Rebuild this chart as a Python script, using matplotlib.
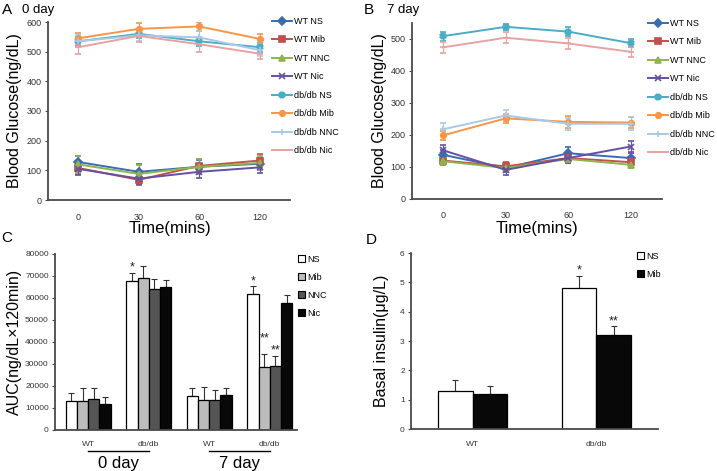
import matplotlib.pyplot as plt
from matplotlib.patches import Patch
from matplotlib.lines import Line2D

plt.rcParams['font.family'] = ['Liberation Sans', 'DejaVu Sans']

W, H = 717, 471

# ---- data ----
time_labels = ['0', '30', '60', '120']
series_names = ['WT NS', 'WT Mib', 'WT NNC', 'WT Nic',
                'db/db NS', 'db/db Mib', 'db/db NNC', 'db/db Nic']
series_colors = ['#3a6cb3', '#c0504d', '#8fb34f', '#6650a0',
                 '#4bacc6', '#f79646', '#a9c9e6', '#e8a2a2']
series_markers = ['D', 's', '^', 'x', 'X', 'o', '+', '_']

# panel A, 0 day
glucose_d0 = [[128, 95, 112, 122],
              [108, 68, 115, 133],
              [120, 88, 112, 125],
              [105, 72, 95, 110],
              [535, 560, 535, 515],
              [545, 577, 585, 543],
              [535, 555, 548, 505],
              [515, 553, 525, 493]]
glucose_d0_err = [[22, 25, 22, 20], [20, 18, 22, 22], [30, 30, 25, 25], [20, 18, 22, 20],
                  [15, 15, 15, 15], [18, 18, 15, 18], [20, 20, 20, 20], [22, 22, 25, 18]]

# panel B, 7 day
glucose_d7 = [[138, 97, 143, 128],
              [120, 102, 128, 115],
              [118, 97, 125, 107],
              [152, 91, 128, 164],
              [509, 538, 523, 487],
              [199, 252, 241, 239],
              [218, 261, 235, 235],
              [474, 504, 486, 460]]
glucose_d7_err = [[15, 12, 18, 15], [15, 15, 15, 12], [12, 10, 12, 10], [18, 15, 15, 18],
                  [14, 10, 13, 13], [15, 15, 18, 18], [18, 18, 18, 20], [18, 18, 18, 16]]

# panel C, AUC
auc_groups = ['WT', 'db/db', 'WT', 'db/db']
auc_days = ['0 day', '7 day']
auc_treatments = ['NS', 'Mib', 'NNC', 'Nic']
auc_ns = [13300, 67900, 15500, 61800]
auc_mib = [13300, 68900, 13800, 28800]
auc_nnc = [14100, 64100, 13600, 28900]
auc_nic = [11700, 65200, 15900, 57900]
auc_ns_err = [3700, 3600, 3400, 3700]
auc_mib_err = [5600, 5800, 5900, 5700]
auc_nnc_err = [4800, 4500, 4600, 4900]
auc_nic_err = [3100, 3100, 3300, 3300]
auc_colors = ['white', '#bcbcbc', '#555555', '#080808']

# panel D, insulin
insulin_groups = ['WT', 'db/db']
insulin_ns = [1.28, 4.8]
insulin_mib = [1.2, 3.2]
insulin_ns_err = [0.4, 0.4]
insulin_mib_err = [0.28, 0.3]


def px_axes(fig, left, top, right, bottom):
    return fig.add_axes([left / W, 1 - bottom / H, (right - left) / W, (bottom - top) / H])


def style(ax):
    for s in ['top', 'right']:
        ax.spines[s].set_visible(False)
    for s in ['left', 'bottom']:
        ax.spines[s].set_color('#4a4a4a')
        ax.spines[s].set_linewidth(1.3)
    ax.tick_params(axis='y', direction='out', length=2.5, width=0.8, color='#4a4a4a',
                   labelsize=6.5, labelcolor='#333333', pad=2)
    ax.tick_params(axis='x', length=0, labelsize=6.5, labelcolor='#333333')


def line_panel(ax, values, errs, ymax, yticks):
    x = range(len(time_labels))
    for vals, err, c, m in zip(values, errs, series_colors, series_markers):
        ax.errorbar(x, vals, yerr=err, color=c, marker=m, markersize=4, lw=1.4,
                    capsize=2, elinewidth=0.9, capthick=0.9, mew=1.2)
    ax.set_xlim(-0.5, 3.5)
    ax.set_ylim(0, ymax)
    ax.set_yticks(yticks)
    ax.set_xticks(list(x))
    ax.set_xticklabels(time_labels)
    ax.tick_params(axis='x', pad=9)
    style(ax)


def line_legend(ax, x, y):
    handles = [Line2D([], [], color=c, marker=m, markersize=4, lw=1.4, mew=1.2, label=n)
               for n, c, m in zip(series_names, series_colors, series_markers)]
    ax.legend(handles=handles, loc='upper left', bbox_to_anchor=(x / W, 1 - y / H),
              bbox_transform=fig.transFigure, frameon=False, fontsize=6.5, labelspacing=1.05,
              handlelength=2.2, handletextpad=0.2, borderpad=0, borderaxespad=0)


fig = plt.figure(figsize=(W / 100, H / 100), dpi=100)

# ---- A ----
axA = px_axes(fig, 48, 22, 290, 200)
line_panel(axA, glucose_d0, glucose_d0_err, 600, range(0, 601, 100))
line_legend(axA, 272, 17)
axA.set_ylabel('Blood Glucose(ng/dL)', fontsize=11.5, labelpad=3)
fig.text(170 / W, 1 - 229 / H, 'Time(mins)', fontsize=12, ha='center', va='center')

# ---- B ----
axB = px_axes(fig, 412, 23, 662, 199)
line_panel(axB, glucose_d7, glucose_d7_err, 550, range(0, 501, 100))
line_legend(axB, 648, 19)
axB.set_ylabel('Blood Glucose(ng/dL)', fontsize=11.5, labelpad=3)
fig.text(537 / W, 1 - 229 / H, 'Time(mins)', fontsize=12, ha='center', va='center')

# ---- C ----
axC = px_axes(fig, 55, 254, 297, 430)
bw = 0.185
auc_vals = [auc_ns, auc_mib, auc_nnc, auc_nic]
auc_errs = [auc_ns_err, auc_mib_err, auc_nnc_err, auc_nic_err]
gx = [i + 0.05 for i in range(len(auc_groups))]
for k, (vals, err, col) in enumerate(zip(auc_vals, auc_errs, auc_colors)):
    xs = [g + (k - 1.5) * bw for g in gx]
    axC.bar(xs, vals, width=bw, color=col, edgecolor='black', linewidth=0.9, zorder=2)
    axC.errorbar(xs, vals, yerr=[[0] * len(vals), err], fmt='none', ecolor='#333333',
                 elinewidth=0.8, capsize=2, capthick=0.8, zorder=1)
axC.set_xlim(-0.5, 3.5)
axC.set_ylim(0, 80000)
axC.set_yticks(range(0, 80001, 10000))
axC.set_xticks([])
style(axC)
axC.tick_params(axis='y', labelsize=6)
axC.set_ylabel('AUC(ng/dL×120min)', fontsize=11.5, labelpad=2)
# significance marks: (group, bar, y)
auc_stars = [(1, 0, '*', 74000), (3, 0, '*', 67600), (3, 1, '**', 41400), (3, 2, '**', 36000)]
for g, k, s, y in auc_stars:
    axC.text(gx[g] + (k - 1.5) * bw, y, s, ha='center', va='center', fontsize=9, color='#222222')
tr = axC.get_xaxis_transform()
for g, name in enumerate(auc_groups):
    axC.text(gx[g], -0.08, name, transform=tr, ha='center', va='center', fontsize=6, color='#333333')
for d, day in enumerate(auc_days):
    a, b = gx[2 * d], gx[2 * d + 1]
    axC.add_line(Line2D([a, b], [-0.12, -0.12], transform=tr, color='black', lw=1.0, clip_on=False))
    axC.text((a + b) / 2, -0.19, day, transform=tr, ha='center', va='center', fontsize=12)
axC.legend(handles=[Patch(facecolor=c, edgecolor='black', lw=0.8, label=t)
                    for c, t in zip(auc_colors, auc_treatments)],
           loc='upper left', bbox_to_anchor=(298 / W, 1 - 255 / H), bbox_transform=fig.transFigure,
           frameon=False, fontsize=6.5, labelspacing=1.0, handlelength=0.8, handleheight=0.8,
           handletextpad=0.2, borderpad=0, borderaxespad=0)

# ---- D ----
axD = px_axes(fig, 411, 253, 658, 429)
bw = 0.28
for k, (vals, err, col) in enumerate(zip([insulin_ns, insulin_mib], [insulin_ns_err, insulin_mib_err],
                                         ['white', '#080808'])):
    xs = [g + (k - 0.5) * bw for g in range(len(insulin_groups))]
    axD.bar(xs, vals, width=bw, color=col, edgecolor='black', linewidth=0.9, zorder=2)
    axD.errorbar(xs, vals, yerr=[[0] * len(vals), err], fmt='none', ecolor='#333333',
                 elinewidth=0.8, capsize=2, capthick=0.8, zorder=1)
axD.set_xlim(-0.5, 1.5)
axD.set_ylim(0, 6)
axD.set_yticks(range(0, 7))
axD.set_xticks(range(len(insulin_groups)))
axD.set_xticklabels(insulin_groups)
style(axD)
axD.tick_params(axis='y', labelsize=6)
axD.tick_params(axis='x', labelsize=6, pad=9)
axD.set_ylabel('Basal insulin(μg/L)', fontsize=11.5, labelpad=8)
insulin_stars = [(1, 0, '*', 5.42), (1, 1, '**', 3.66)]
for g, k, s, y in insulin_stars:
    axD.text(g + (k - 0.5) * bw, y, s, ha='center', va='center', fontsize=9, color='#222222')
axD.legend(handles=[Patch(facecolor=c, edgecolor='black', lw=0.8, label=t)
                    for c, t in zip(['white', '#080808'], ['NS', 'Mib'])],
           loc='upper left', bbox_to_anchor=(637 / W, 1 - 252 / H), bbox_transform=fig.transFigure,
           frameon=False, fontsize=6.5, labelspacing=0.95, handlelength=0.8, handleheight=0.8,
           handletextpad=0.2, borderpad=0, borderaxespad=0)

# panel letters and titles
fig.text(2 / W, 1 - 10 / H, 'A', fontsize=11, va='center')
fig.text(22 / W, 1 - 10 / H, '0 day', fontsize=9.5, va='center')
fig.text(364 / W, 1 - 10 / H, 'B', fontsize=11, va='center')
fig.text(387 / W, 1 - 10 / H, '7 day', fontsize=9.5, va='center')
fig.text(1 / W, 1 - 238 / H, 'C', fontsize=11, va='center')
fig.text(366 / W, 1 - 240 / H, 'D', fontsize=11, va='center')

fig.savefig('out.png', dpi=100)
